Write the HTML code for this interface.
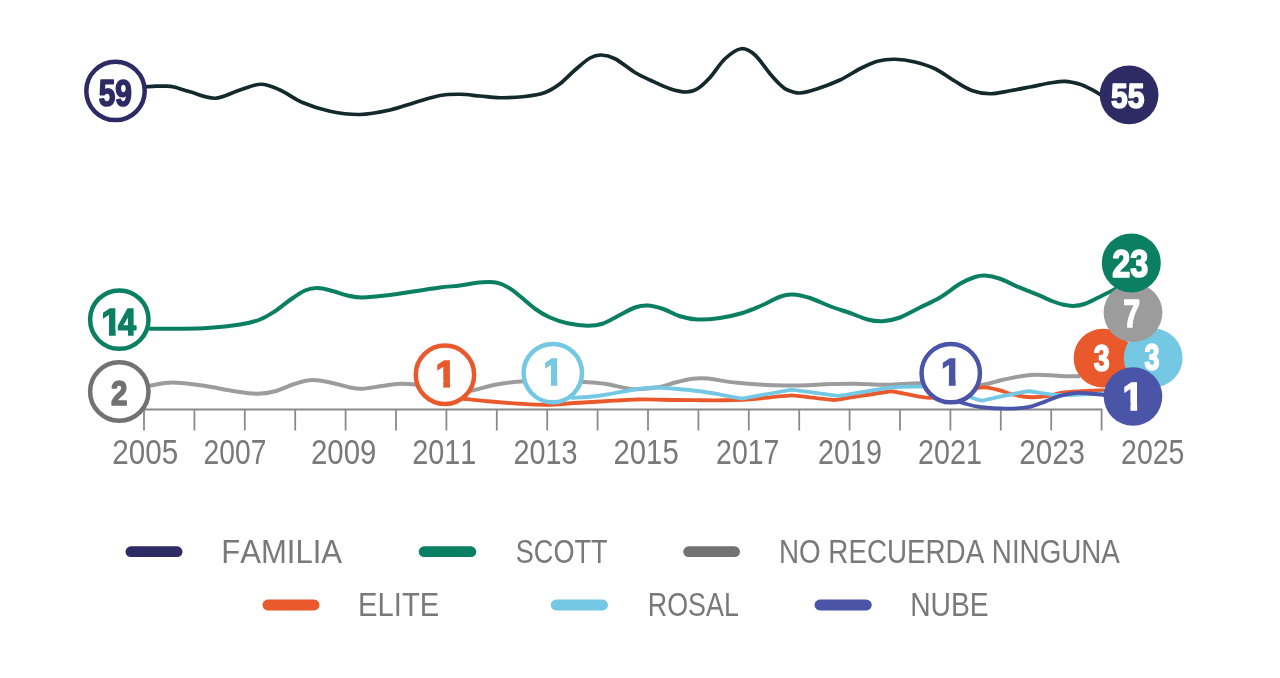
<!DOCTYPE html>
<html lang="es"><head><meta charset="utf-8"><title>Chart</title>
<style>
html,body{margin:0;padding:0;background:#fff;}
body{width:1280px;height:678px;overflow:hidden;position:relative;}
svg{position:absolute;left:0;top:0;display:block;will-change:transform;opacity:0.999;filter:blur(0.45px);font-family:"Liberation Sans",sans-serif;font-kerning:none;}
text{font-family:"Liberation Sans",sans-serif;font-kerning:none;}
</style></head>
<body>
<svg width="1280" height="678" viewBox="0 0 1280 678">
<defs><clipPath id="one"><path d="M0,-76H39.6V2.6H21.4V-18H0Z"/></clipPath></defs>
<rect width="1280" height="678" fill="#ffffff"/>
<g id="series">
<path d="M151.00,385.50C154.58,385.00 163.92,382.50 172.50,382.50C181.08,382.50 192.08,384.04 202.50,385.50C212.92,386.96 225.83,389.88 235.00,391.25C244.17,392.62 250.83,393.75 257.50,393.75C264.17,393.75 268.75,392.92 275.00,391.25C281.25,389.58 288.75,385.62 295.00,383.75C301.25,381.88 306.25,380.12 312.50,380.00C318.75,379.88 326.25,381.75 332.50,383.00C338.75,384.25 345.00,386.54 350.00,387.50C355.00,388.46 357.50,388.96 362.50,388.75C367.50,388.54 373.75,387.08 380.00,386.25C386.25,385.42 394.17,384.04 400.00,383.75C405.83,383.46 408.33,383.62 415.00,384.50C421.67,385.38 432.83,387.75 440.00,389.00C447.17,390.25 452.40,391.80 458.00,392.00C463.60,392.20 467.43,391.40 473.60,390.20C479.77,389.00 487.22,386.23 495.00,384.80C502.78,383.37 510.80,382.32 520.30,381.60C529.80,380.88 541.30,380.43 552.00,380.50C562.70,380.57 575.67,381.46 584.50,382.00C593.33,382.54 598.25,382.75 605.00,383.75C611.75,384.75 620.00,387.08 625.00,388.00C630.00,388.92 629.17,389.42 635.00,389.25C640.83,389.08 653.33,388.12 660.00,387.00C666.67,385.88 669.58,383.88 675.00,382.50C680.42,381.12 687.08,379.42 692.50,378.75C697.92,378.08 700.00,377.82 707.50,378.50C715.00,379.18 724.68,381.62 737.50,382.80C750.32,383.98 768.77,385.38 784.40,385.60C800.02,385.82 819.38,384.41 831.25,384.10C843.12,383.79 846.23,383.65 855.60,383.75C864.98,383.85 876.87,384.79 887.50,384.70C898.13,384.61 908.82,383.23 919.40,383.20C929.98,383.17 940.53,384.25 951.00,384.50C961.47,384.75 973.72,385.45 982.20,384.70C990.68,383.95 995.18,381.47 1001.90,380.00C1008.62,378.53 1016.57,376.77 1022.50,375.90C1028.43,375.02 1031.25,374.75 1037.50,374.75C1043.75,374.75 1053.08,375.65 1060.00,375.90C1066.92,376.15 1075.83,376.19 1079.00,376.25" fill="none" stroke="#9c9c9c" stroke-width="4" stroke-linecap="round" stroke-linejoin="round"/>
<line x1="143" y1="409.5" x2="1102.5" y2="409.5" stroke="#8a8a8a" stroke-width="2"/>
<line x1="144.0" y1="409.5" x2="144.0" y2="430.5" stroke="#8a8a8a" stroke-width="1.8"/>
<line x1="194.4" y1="409.5" x2="194.4" y2="430.5" stroke="#8a8a8a" stroke-width="1.8"/>
<line x1="244.8" y1="409.5" x2="244.8" y2="430.5" stroke="#8a8a8a" stroke-width="1.8"/>
<line x1="295.2" y1="409.5" x2="295.2" y2="430.5" stroke="#8a8a8a" stroke-width="1.8"/>
<line x1="345.6" y1="409.5" x2="345.6" y2="430.5" stroke="#8a8a8a" stroke-width="1.8"/>
<line x1="396.0" y1="409.5" x2="396.0" y2="430.5" stroke="#8a8a8a" stroke-width="1.8"/>
<line x1="446.4" y1="409.5" x2="446.4" y2="430.5" stroke="#8a8a8a" stroke-width="1.8"/>
<line x1="496.8" y1="409.5" x2="496.8" y2="430.5" stroke="#8a8a8a" stroke-width="1.8"/>
<line x1="547.2" y1="409.5" x2="547.2" y2="430.5" stroke="#8a8a8a" stroke-width="1.8"/>
<line x1="597.6" y1="409.5" x2="597.6" y2="430.5" stroke="#8a8a8a" stroke-width="1.8"/>
<line x1="648.0" y1="409.5" x2="648.0" y2="430.5" stroke="#8a8a8a" stroke-width="1.8"/>
<line x1="698.4" y1="409.5" x2="698.4" y2="430.5" stroke="#8a8a8a" stroke-width="1.8"/>
<line x1="748.8" y1="409.5" x2="748.8" y2="430.5" stroke="#8a8a8a" stroke-width="1.8"/>
<line x1="799.2" y1="409.5" x2="799.2" y2="430.5" stroke="#8a8a8a" stroke-width="1.8"/>
<line x1="849.6" y1="409.5" x2="849.6" y2="430.5" stroke="#8a8a8a" stroke-width="1.8"/>
<line x1="900.0" y1="409.5" x2="900.0" y2="430.5" stroke="#8a8a8a" stroke-width="1.8"/>
<line x1="950.4" y1="409.5" x2="950.4" y2="430.5" stroke="#8a8a8a" stroke-width="1.8"/>
<line x1="1000.8" y1="409.5" x2="1000.8" y2="430.5" stroke="#8a8a8a" stroke-width="1.8"/>
<line x1="1051.2" y1="409.5" x2="1051.2" y2="430.5" stroke="#8a8a8a" stroke-width="1.8"/>
<line x1="1101.6" y1="409.5" x2="1101.6" y2="430.5" stroke="#8a8a8a" stroke-width="1.8"/>
<path d="M463.60,398.75C467.58,399.17 478.10,400.42 487.50,401.25C496.90,402.08 509.95,403.16 520.00,403.75C530.05,404.34 538.63,404.93 547.80,404.80C556.97,404.68 565.47,403.59 575.00,403.00C584.53,402.41 594.58,401.83 605.00,401.25C615.42,400.67 625.83,399.71 637.50,399.50C649.17,399.29 664.58,399.88 675.00,400.00C685.42,400.12 691.77,400.21 700.00,400.25C708.23,400.29 716.58,400.34 724.40,400.25C732.22,400.16 744.20,399.89 746.90,399.70C749.60,399.51 788.38,395.39 791.90,395.40C795.42,395.41 831.03,400.17 835.00,400.00C838.97,399.83 887.50,391.34 891.25,391.25C895.00,391.16 918.12,397.51 928.75,397.80C939.38,398.09 946.41,394.72 955.00,393.00C963.59,391.28 973.42,388.10 980.30,387.50C987.17,386.90 990.47,388.15 996.25,389.40C1002.03,390.65 1009.06,393.69 1015.00,395.00C1020.94,396.31 1026.28,397.10 1031.90,397.25C1037.53,397.40 1043.75,396.65 1048.75,395.90C1053.75,395.15 1056.59,393.52 1061.90,392.75C1067.21,391.98 1073.58,391.66 1080.60,391.25C1087.62,390.84 1100.10,390.46 1104.00,390.30" fill="none" stroke="#e9592c" stroke-width="3.8" stroke-linecap="round" stroke-linejoin="round"/>
<path d="M571.90,397.90C575.75,397.62 587.82,397.07 595.00,396.25C602.18,395.43 608.33,394.12 615.00,393.00C621.67,391.88 628.33,390.42 635.00,389.50C641.67,388.58 648.33,387.62 655.00,387.50C661.67,387.38 667.50,388.12 675.00,388.75C682.50,389.38 692.50,390.29 700.00,391.25C707.50,392.21 718.28,394.21 720.00,394.50C721.72,394.79 740.22,398.58 743.10,398.40C745.98,398.22 788.07,390.00 791.90,389.90C795.73,389.80 834.93,395.98 838.75,395.90C842.57,395.82 884.27,388.27 887.50,387.90C890.73,387.53 908.98,386.42 919.40,386.60C929.82,386.78 941.25,387.13 950.00,389.00C958.75,390.87 970.61,397.34 971.90,397.80C973.19,398.26 980.93,400.68 982.20,400.60C983.47,400.52 1001.91,396.27 1003.75,395.90C1005.59,395.53 1026.15,391.30 1028.10,391.25C1030.05,391.20 1045.93,393.98 1052.50,394.60C1059.07,395.23 1062.08,395.05 1067.50,395.00C1072.92,394.95 1078.92,394.55 1085.00,394.30C1091.08,394.05 1100.83,393.63 1104.00,393.50" fill="none" stroke="#74c8e4" stroke-width="3.8" stroke-linecap="round" stroke-linejoin="round"/>
<path d="M952.00,399.00C954.07,399.73 959.52,402.03 964.40,403.40C969.27,404.77 974.38,406.32 981.25,407.20C988.12,408.08 997.79,408.70 1005.60,408.70C1013.41,408.70 1021.53,408.38 1028.10,407.20C1034.67,406.02 1039.68,403.48 1045.00,401.60C1050.32,399.72 1055.00,397.32 1060.00,395.90C1065.00,394.48 1070.00,393.50 1075.00,393.10C1080.00,392.70 1085.17,393.18 1090.00,393.50C1094.83,393.82 1101.67,394.75 1104.00,395.00" fill="none" stroke="#4a55a8" stroke-width="3.8" stroke-linecap="round" stroke-linejoin="round"/>
<path d="M150.00,328.75C154.58,328.75 167.92,328.88 177.50,328.75C187.08,328.62 197.08,328.71 207.50,328.00C217.92,327.29 231.25,325.92 240.00,324.50C248.75,323.08 254.17,321.71 260.00,319.50C265.83,317.29 270.00,314.50 275.00,311.25C280.00,308.00 285.00,303.46 290.00,300.00C295.00,296.54 300.42,292.50 305.00,290.50C309.58,288.50 312.92,287.92 317.50,288.00C322.08,288.08 327.50,289.75 332.50,291.00C337.50,292.25 342.50,294.42 347.50,295.50C352.50,296.58 355.42,297.58 362.50,297.50C369.58,297.42 381.25,296.04 390.00,295.00C398.75,293.96 406.67,292.50 415.00,291.25C423.33,290.00 432.50,288.46 440.00,287.50C447.50,286.54 454.17,286.25 460.00,285.50C465.83,284.75 470.00,283.58 475.00,283.00C480.00,282.42 485.67,281.87 490.00,282.00C494.33,282.13 497.50,282.60 501.00,283.80C504.50,285.00 507.83,287.12 511.00,289.20C514.17,291.27 516.00,292.99 520.00,296.25C524.00,299.51 530.00,305.21 535.00,308.75C540.00,312.29 544.58,315.08 550.00,317.50C555.42,319.92 561.25,321.88 567.50,323.25C573.75,324.62 581.67,325.67 587.50,325.75C593.33,325.83 597.50,325.33 602.50,323.75C607.50,322.17 612.08,318.96 617.50,316.25C622.92,313.54 630.00,309.29 635.00,307.50C640.00,305.71 642.92,305.29 647.50,305.50C652.08,305.71 657.08,306.96 662.50,308.75C667.92,310.54 674.17,314.46 680.00,316.25C685.83,318.04 690.83,319.21 697.50,319.50C704.17,319.79 712.50,319.08 720.00,318.00C727.50,316.92 735.83,314.96 742.50,313.00C749.17,311.04 753.75,308.96 760.00,306.25C766.25,303.54 774.58,298.71 780.00,296.75C785.42,294.79 787.50,294.29 792.50,294.50C797.50,294.71 803.75,296.04 810.00,298.00C816.25,299.96 823.33,303.75 830.00,306.25C836.67,308.75 843.75,310.79 850.00,313.00C856.25,315.21 862.08,318.12 867.50,319.50C872.92,320.88 877.08,321.58 882.50,321.25C887.92,320.92 893.75,319.79 900.00,317.50C906.25,315.21 913.33,310.83 920.00,307.50C926.67,304.17 933.33,301.46 940.00,297.50C946.67,293.54 954.17,287.17 960.00,283.75C965.83,280.33 970.83,278.38 975.00,277.00C979.17,275.62 980.83,275.21 985.00,275.50C989.17,275.79 994.38,276.80 1000.00,278.75C1005.62,280.70 1012.50,284.54 1018.75,287.20C1025.00,289.86 1031.88,292.36 1037.50,294.70C1043.12,297.04 1048.12,299.57 1052.50,301.25C1056.88,302.93 1060.32,304.03 1063.75,304.80C1067.18,305.57 1069.66,306.03 1073.10,305.90C1076.54,305.77 1080.18,305.40 1084.40,304.00C1088.62,302.60 1093.72,299.75 1098.40,297.50C1103.08,295.25 1109.23,292.15 1112.50,290.50C1115.77,288.85 1117.08,288.08 1118.00,287.60" fill="none" stroke="#0b7f62" stroke-width="4" stroke-linecap="round" stroke-linejoin="round"/>
<path d="M146.00,86.75C147.67,86.66 152.83,86.31 156.00,86.20C159.17,86.09 162.00,85.97 165.00,86.10C168.00,86.23 169.83,86.05 174.00,87.00C178.17,87.95 183.17,89.92 190.00,91.80C196.83,93.67 206.67,98.55 215.00,98.25C223.33,97.95 232.33,92.33 240.00,90.00C247.67,87.67 254.33,84.25 261.00,84.25C267.67,84.25 273.08,86.96 280.00,90.00C286.92,93.04 294.17,98.96 302.50,102.50C310.83,106.04 320.42,109.25 330.00,111.25C339.58,113.25 350.00,114.71 360.00,114.50C370.00,114.29 380.83,112.00 390.00,110.00C399.17,108.00 406.67,104.92 415.00,102.50C423.33,100.08 432.50,96.88 440.00,95.50C447.50,94.12 453.33,94.17 460.00,94.25C466.67,94.33 473.33,95.42 480.00,96.00C486.67,96.58 492.50,97.67 500.00,97.75C507.50,97.83 517.50,97.38 525.00,96.50C532.50,95.62 539.17,94.62 545.00,92.50C550.83,90.38 555.00,87.50 560.00,83.75C565.00,80.00 570.00,74.29 575.00,70.00C580.00,65.71 585.62,60.50 590.00,58.00C594.38,55.50 597.08,54.88 601.25,55.00C605.42,55.12 609.38,55.83 615.00,58.75C620.62,61.67 629.17,68.96 635.00,72.50C640.83,76.04 644.17,77.29 650.00,80.00C655.83,82.71 663.96,86.75 670.00,88.75C676.04,90.75 681.67,92.00 686.25,92.00C690.83,92.00 693.54,91.17 697.50,88.75C701.46,86.33 705.42,82.50 710.00,77.50C714.58,72.50 719.79,63.54 725.00,58.75C730.21,53.96 736.25,49.38 741.25,48.75C746.25,48.12 750.21,50.83 755.00,55.00C759.79,59.17 765.83,68.83 770.00,73.75C774.17,78.67 777.08,81.79 780.00,84.50C782.92,87.21 784.17,88.58 787.50,90.00C790.83,91.42 795.00,93.21 800.00,93.00C805.00,92.79 810.83,90.92 817.50,88.75C824.17,86.58 832.92,83.33 840.00,80.00C847.08,76.67 853.75,71.88 860.00,68.75C866.25,65.62 871.67,62.83 877.50,61.25C883.33,59.67 888.75,59.12 895.00,59.25C901.25,59.38 908.33,60.42 915.00,62.00C921.67,63.58 928.33,65.54 935.00,68.75C941.67,71.96 948.75,77.58 955.00,81.25C961.25,84.92 966.67,88.67 972.50,90.75C978.33,92.83 983.75,93.75 990.00,93.75C996.25,93.75 1003.33,91.88 1010.00,90.75C1016.67,89.62 1023.33,88.29 1030.00,87.00C1036.67,85.71 1044.17,83.95 1050.00,83.00C1055.83,82.05 1060.00,81.08 1065.00,81.30C1070.00,81.52 1075.50,82.90 1080.00,84.30C1084.50,85.70 1088.50,87.92 1092.00,89.70C1095.50,91.48 1099.50,94.12 1101.00,95.00" fill="none" stroke="#14292c" stroke-width="3.7" stroke-linecap="round" stroke-linejoin="round"/>
</g>
<g id="markers">
<circle cx="115.5" cy="90.9" r="29.2" fill="#ffffff" stroke="#2d2a64" stroke-width="4.5"/>
<text transform="matrix(0.2978 0 0 0.3616 98.73 105.90)" font-size="100" font-weight="700" fill="#2d2a64" stroke="#2d2a64" stroke-width="4.55" stroke-linejoin="round">59</text>
<circle cx="119.3" cy="319.6" r="29.2" fill="#ffffff" stroke="#0b7f62" stroke-width="4.5"/>
<g transform="matrix(0.3673 0 0 0.3663 101.14 335.45)" clip-path="url(#one)"><text font-size="100" font-weight="700" fill="#0b7f62" stroke="#0b7f62" stroke-width="4.09">1</text></g>
<text transform="matrix(0.3248 0 0 0.3663 118.06 335.45)" font-size="100" font-weight="700" fill="#0b7f62" stroke="#0b7f62" stroke-width="4.34" stroke-linejoin="round">4</text>
<circle cx="119.3" cy="391.5" r="29.2" fill="#ffffff" stroke="#727272" stroke-width="4.5"/>
<text transform="matrix(0.2960 0 0 0.3595 110.97 404.55)" font-size="100" font-weight="700" fill="#727272" stroke="#727272" stroke-width="4.58" stroke-linejoin="round">2</text>
<circle cx="444.95" cy="374.7" r="29.2" fill="#ffffff" stroke="#e9592c" stroke-width="4.5"/>
<g transform="matrix(0.3673 0 0 0.3663 435.44 386.85)" clip-path="url(#one)"><text font-size="100" font-weight="700" fill="#e9592c" stroke="#e9592c" stroke-width="4.09">1</text></g>
<circle cx="552.8" cy="373.1" r="29.2" fill="#ffffff" stroke="#74c8e4" stroke-width="4.5"/>
<g transform="matrix(0.3543 0 0 0.3605 543.42 385.15)" clip-path="url(#one)"><text font-size="100" font-weight="700" fill="#74c8e4" stroke="#74c8e4" stroke-width="4.20">1</text></g>
<circle cx="950.75" cy="373.15" r="29.2" fill="#ffffff" stroke="#4a55a8" stroke-width="4.5"/>
<g transform="matrix(0.3738 0 0 0.3677 940.90 385.25)" clip-path="url(#one)"><text font-size="100" font-weight="700" fill="#4a55a8" stroke="#4a55a8" stroke-width="4.05">1</text></g>
<circle cx="1129.1" cy="94.8" r="29.4" fill="#2d2a64"/>
<text transform="matrix(0.3008 0 0 0.3583 1111.12 108.00)" font-size="100" font-weight="700" fill="#ffffff" stroke="#ffffff" stroke-width="4.55" stroke-linejoin="round">55</text>
<circle cx="1103" cy="358.1" r="29.4" fill="#e9592c"/>
<text transform="matrix(0.2867 0 0 0.3679 1093.84 370.74)" font-size="100" font-weight="700" fill="#ffffff" stroke="#ffffff" stroke-width="4.58" stroke-linejoin="round">3</text>
<circle cx="1153.2" cy="358" r="29.4" fill="#74c8e4"/>
<text transform="matrix(0.2696 0 0 0.3637 1144.53 370.44)" font-size="100" font-weight="700" fill="#ffffff" stroke="#ffffff" stroke-width="4.74" stroke-linejoin="round">3</text>
<circle cx="1133" cy="312.6" r="29.4" fill="#9c9c9c"/>
<text transform="matrix(0.2962 0 0 0.3794 1123.58 326.85)" font-size="100" font-weight="700" fill="#ffffff" stroke="#ffffff" stroke-width="4.44" stroke-linejoin="round">7</text>
<circle cx="1131.3" cy="262.9" r="29.5" fill="#0b7f62"/>
<text transform="matrix(0.3245 0 0 0.3792 1112.32 276.52)" font-size="100" font-weight="700" fill="#ffffff" stroke="#ffffff" stroke-width="4.26" stroke-linejoin="round">23</text>
<circle cx="1133" cy="396.45" r="29.3" fill="#4a55a8"/>
<g transform="matrix(0.3738 0 0 0.3837 1122.50 410.45)" clip-path="url(#one)"><text font-size="100" font-weight="700" fill="#ffffff" stroke="#ffffff" stroke-width="3.96">1</text></g>
</g>
<g id="xaxis">
<text transform="matrix(0.2966 0 0 0.3460 112.26 464.16)" font-size="100" fill="#797979">2005</text>
<text transform="matrix(0.2825 0 0 0.3460 203.58 464.16)" font-size="100" fill="#797979">2007</text>
<text transform="matrix(0.2938 0 0 0.3460 311.02 464.16)" font-size="100" fill="#797979">2009</text>
<text transform="matrix(0.2882 0 0 0.3460 412.30 464.16)" font-size="100" fill="#797979">2011</text>
<text transform="matrix(0.2875 0 0 0.3460 513.55 464.16)" font-size="100" fill="#797979">2013</text>
<text transform="matrix(0.2931 0 0 0.3460 613.53 464.16)" font-size="100" fill="#797979">2015</text>
<text transform="matrix(0.2848 0 0 0.3460 716.07 464.16)" font-size="100" fill="#797979">2017</text>
<text transform="matrix(0.2868 0 0 0.3460 818.06 464.16)" font-size="100" fill="#797979">2019</text>
<text transform="matrix(0.2870 0 0 0.3460 918.06 464.16)" font-size="100" fill="#797979">2021</text>
<text transform="matrix(0.2957 0 0 0.3460 1019.26 464.16)" font-size="100" fill="#797979">2023</text>
<text transform="matrix(0.2849 0 0 0.3460 1121.07 464.16)" font-size="100" fill="#797979">2025</text>
</g>
<g id="legend">
<line x1="130.9" y1="551.7" x2="177.1" y2="551.7" stroke="#2d2a64" stroke-width="10.8" stroke-linecap="round"/>
<text transform="matrix(0.3107 0 0 0.3343 221.20 563.00)" font-size="100" fill="#797979">FAMILIA</text>
<line x1="424.15" y1="551.7" x2="470.85" y2="551.7" stroke="#0b7f62" stroke-width="10.8" stroke-linecap="round"/>
<text transform="matrix(0.2711 0 0 0.3343 515.77 563.00)" font-size="100" fill="#797979">SCOTT</text>
<line x1="688.65" y1="551.7" x2="734.6" y2="551.7" stroke="#727272" stroke-width="10.8" stroke-linecap="round"/>
<text transform="matrix(0.2778 0 0 0.3343 778.97 563.00)" font-size="100" fill="#797979">NO RECUERDA NINGUNA</text>
<line x1="267.9" y1="605.0" x2="314.1" y2="605.0" stroke="#e9592c" stroke-width="10.8" stroke-linecap="round"/>
<text transform="matrix(0.2920 0 0 0.3379 358.10 615.75)" font-size="100" fill="#797979">ELITE</text>
<line x1="556.15" y1="605.0" x2="602.6" y2="605.0" stroke="#74c8e4" stroke-width="10.8" stroke-linecap="round"/>
<text transform="matrix(0.2687 0 0 0.3379 647.80 615.75)" font-size="100" fill="#797979">ROSAL</text>
<line x1="819.9" y1="605.0" x2="866.35" y2="605.0" stroke="#4a55a8" stroke-width="10.8" stroke-linecap="round"/>
<text transform="matrix(0.2827 0 0 0.3379 910.18 615.75)" font-size="100" fill="#797979">NUBE</text>
</g>
</svg>
</body></html>
